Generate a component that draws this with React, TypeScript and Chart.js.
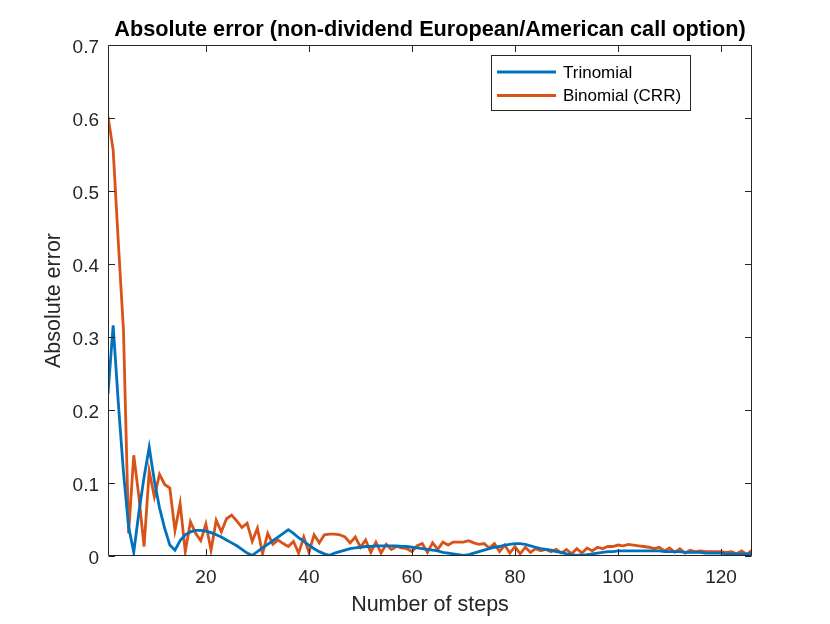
import { useEffect, useRef } from "react";
import { Chart, registerables, type ChartConfiguration, type Plugin } from "chart.js";

Chart.register(...registerables);

// x: number of tree steps
const steps = Array.from({ length: 126 }, (_, i) => i + 1);

const trinomialError = [
  0.222, 0.316, 0.21, 0.115, 0.04, 0.005, 0.06, 0.108, 0.149, 0.103,
  0.066, 0.038, 0.015, 0.008, 0.021, 0.029, 0.033, 0.035, 0.035, 0.034,
  0.032, 0.029, 0.026, 0.022, 0.018, 0.014, 0.009, 0.004, 0.001, 0.006,
  0.011, 0.016, 0.021, 0.026, 0.031, 0.036, 0.031, 0.025, 0.02, 0.015,
  0.01, 0.006, 0.003, 0.001, 0.004, 0.006, 0.008, 0.01, 0.011, 0.012,
  0.013, 0.013, 0.014, 0.014, 0.014, 0.014, 0.014, 0.013, 0.013, 0.012,
  0.011, 0.01, 0.009, 0.008, 0.007, 0.005, 0.004, 0.003, 0.002, 0.001,
  0.002, 0.004, 0.006, 0.008, 0.01, 0.012, 0.013, 0.015, 0.016, 0.017,
  0.017, 0.016, 0.014, 0.012, 0.01, 0.009, 0.008, 0.006, 0.005, 0.003,
  0.002, 0.001, 0.001, 0.002, 0.003, 0.004, 0.005, 0.006, 0.006, 0.007,
  0.007, 0.007, 0.007, 0.007, 0.007, 0.007, 0.007, 0.007, 0.006, 0.006,
  0.006, 0.006, 0.005, 0.005, 0.005, 0.005, 0.004, 0.004, 0.004, 0.004,
  0.003, 0.003, 0.003, 0.003, 0.003, 0.003,
];

const binomialError = [
  0.602, 0.556, 0.43, 0.31, 0.031, 0.138, 0.081, 0.013, 0.116, 0.081,
  0.112, 0.098, 0.093, 0.035, 0.072, 0.006, 0.047, 0.031, 0.021, 0.044,
  0.008, 0.049, 0.033, 0.051, 0.056, 0.048, 0.039, 0.045, 0.02, 0.038,
  0.003, 0.031, 0.016, 0.022, 0.017, 0.013, 0.02, 0.004, 0.026, 0.005,
  0.029, 0.018, 0.029, 0.03, 0.03, 0.029, 0.026, 0.018, 0.026, 0.012,
  0.022, 0.005, 0.019, 0.004, 0.016, 0.009, 0.013, 0.011, 0.01, 0.006,
  0.014, 0.017, 0.005, 0.018, 0.009, 0.019, 0.015, 0.019, 0.019, 0.019,
  0.021, 0.018, 0.016, 0.017, 0.011, 0.017, 0.006, 0.015, 0.004, 0.013,
  0.003, 0.012, 0.005, 0.01, 0.007, 0.009, 0.006, 0.009, 0.004, 0.009,
  0.003, 0.01, 0.004, 0.011, 0.007, 0.012, 0.01, 0.013, 0.013, 0.015,
  0.014, 0.016, 0.015, 0.014, 0.013, 0.012, 0.01, 0.012, 0.007, 0.011,
  0.005, 0.01, 0.004, 0.008, 0.006, 0.007, 0.006, 0.006, 0.006, 0.006,
  0.005, 0.006, 0.003, 0.007, 0.002, 0.008,
];

const xTicks = [20, 40, 60, 80, 100, 120];
const yTicks = [0, 0.1, 0.2, 0.3, 0.4, 0.5, 0.6, 0.7];
const seriesLabels = ["Trinomial", "Binomial (CRR)"];
const seriesColors = ["#0072BD", "#D95319"];

const FONT = '"Liberation Sans", Arial, Helvetica, sans-serif';
const AXIS = "#262626";
const TICK_LEN = 6.5;

const matlabBox: Plugin<"line"> = {
  id: "matlabBox",
  afterDatasetsDraw(chart) {
    const { ctx, chartArea: a, scales } = chart;
    const l = Math.round(a.left) + 0.5;
    const r = Math.round(a.right) - 0.5;
    const t = Math.round(a.top) + 0.5;
    const b = Math.round(a.bottom) - 0.5;
    ctx.save();
    ctx.strokeStyle = AXIS;
    ctx.lineWidth = 1;
    ctx.beginPath();
    ctx.rect(l, t, r - l, b - t);
    xTicks.forEach((v) => {
      const px = Math.round(scales.x.getPixelForValue(v)) + 0.5;
      ctx.moveTo(px, b);
      ctx.lineTo(px, b - TICK_LEN);
      ctx.moveTo(px, t);
      ctx.lineTo(px, t + TICK_LEN);
    });
    yTicks.forEach((v) => {
      const py = Math.round(scales.y.getPixelForValue(v)) + 0.5;
      ctx.moveTo(l, py);
      ctx.lineTo(l + TICK_LEN, py);
      ctx.moveTo(r, py);
      ctx.lineTo(r - TICK_LEN, py);
    });
    ctx.stroke();
    ctx.restore();
  },
};

const boxLegend: Plugin<"line"> = {
  id: "boxLegend",
  afterDraw(chart) {
    const { ctx } = chart;
    const x0 = 491;
    const y0 = 55;
    ctx.save();
    ctx.fillStyle = "#ffffff";
    ctx.fillRect(x0, y0, 200, 56);
    ctx.strokeStyle = AXIS;
    ctx.lineWidth = 1;
    ctx.strokeRect(x0 + 0.5, y0 + 0.5, 199, 55);
    ctx.font = `17px ${FONT}`;
    ctx.textBaseline = "middle";
    ctx.textAlign = "left";
    chart.data.datasets.forEach((ds, i) => {
      const y = y0 + 17 + i * 23.5;
      ctx.strokeStyle = ds.borderColor as string;
      ctx.lineWidth = 2.8;
      ctx.beginPath();
      ctx.moveTo(x0 + 6, y);
      ctx.lineTo(x0 + 65, y);
      ctx.stroke();
      ctx.fillStyle = "#000000";
      ctx.fillText(ds.label ?? "", x0 + 72, y + 1);
    });
    ctx.restore();
  },
};

function buildConfig(): ChartConfiguration<"line"> {
  return {
    type: "line",
    data: {
      datasets: [trinomialError, binomialError].map((series, i) => ({
        label: seriesLabels[i],
        data: steps.map((s, j) => ({ x: s, y: series[j] })),
        borderColor: seriesColors[i],
        backgroundColor: seriesColors[i],
        borderWidth: 2.8,
        pointRadius: 0,
        tension: 0,
        fill: false,
      })),
    },
    plugins: [matlabBox, boxLegend],
    options: {
      animation: false,
      responsive: false,
      devicePixelRatio: 1,
      layout: { padding: { top: 0, right: 78, bottom: 0, left: 0 } },
      plugins: {
        legend: { display: false },
        tooltip: { enabled: false },
        title: {
          display: true,
          fullSize: false,
          text: "Absolute error (non-dividend European/American call option)",
          color: "#000000",
          font: { family: FONT, size: 21.7, weight: "bold", lineHeight: 1.2 },
          padding: { top: 17, bottom: 2 },
        },
      },
      scales: {
        x: {
          type: "linear",
          min: 1,
          max: 126,
          afterFit(scale) {
            scale.height = 68;
          },
          afterBuildTicks(scale) {
            scale.ticks = xTicks.map((v) => ({ value: v }));
          },
          border: { display: false },
          grid: { display: false, drawTicks: false },
          ticks: {
            color: AXIS,
            padding: 10,
            maxRotation: 0,
            font: { family: FONT, size: 19 },
            callback: (v) => `${v}`,
          },
          title: {
            display: true,
            text: "Number of steps",
            color: AXIS,
            font: { family: FONT, size: 21.5, lineHeight: 1.2 },
            padding: { top: 0, bottom: 6 },
          },
        },
        y: {
          type: "linear",
          min: 0,
          max: 0.7,
          afterFit(scale) {
            scale.width = 108;
          },
          afterBuildTicks(scale) {
            scale.ticks = yTicks.map((v) => ({ value: v }));
          },
          border: { display: false },
          grid: { display: false, drawTicks: false },
          ticks: {
            color: AXIS,
            padding: 9,
            labelOffset: 3,
            font: { family: FONT, size: 19 },
            callback: (v) => (Number(v) === 0 ? "0" : Number(v).toFixed(1)),
          },
          title: {
            display: true,
            text: "Absolute error",
            color: AXIS,
            font: { family: FONT, size: 21.5, lineHeight: 1.2 },
            padding: { top: 41, bottom: 0 },
          },
        },
      },
    },
  };
}

export default function App() {
  const canvasRef = useRef<HTMLCanvasElement>(null);

  useEffect(() => {
    if (!canvasRef.current) {
      return;
    }
    const chart = new Chart(canvasRef.current, buildConfig());
    return () => {
      chart.destroy();
    };
  }, []);

  return (
    <div
      style={{
        position: "fixed",
        left: 0,
        top: 0,
        width: 830,
        height: 624,
        background: "#ffffff",
      }}
    >
      <canvas ref={canvasRef} width={830} height={624} />
    </div>
  );
}
